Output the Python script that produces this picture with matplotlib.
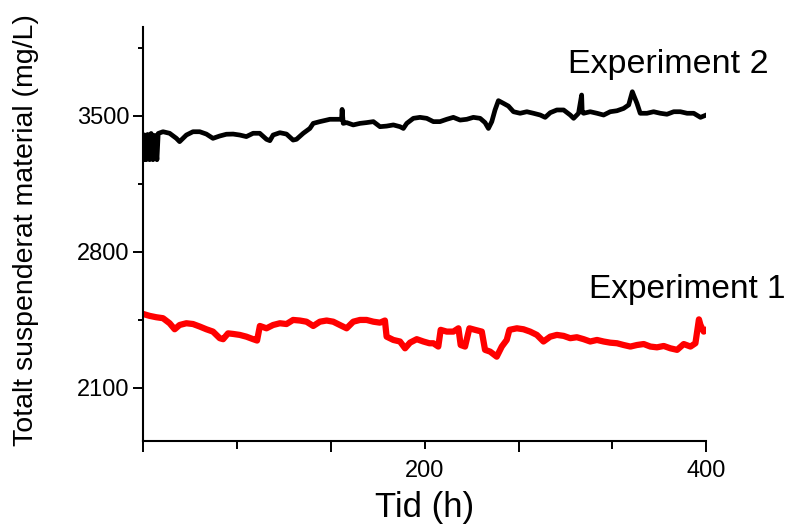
import matplotlib
matplotlib.use('Agg')
import matplotlib.pyplot as plt

plt.rcParams['font.family'] = ['Liberation Sans', 'DejaVu Sans']

# Experiment 2 (black), time in h, TSS in mg/L
exp2_t = [0, 0.4, 1.2, 2.3, 3.3, 4.7, 5.8, 7.1, 8.3, 9.9, 10.8, 14.2, 18.9, 23.7, 26.0,
          30.8, 35.5, 40.3, 45.0, 49.7, 54.5, 59.2, 64.0, 68.7, 73.4, 78.2, 82.9, 87.7,
          90.1, 92.4, 97.2, 101.9, 106.6, 109.0, 113.8, 118.5, 120.9, 125.6, 130.4,
          132.7, 141.0, 141.4, 142.2, 144.6, 149.3, 154.1, 158.8, 163.6, 168.3, 173.0,
          177.8, 182.5, 184.9, 187.3, 192.0, 196.7, 201.5, 206.2, 210.9, 215.7, 220.4,
          225.2, 229.9, 234.6, 239.4, 242.9, 245.3, 247.7, 250.0, 252.4, 256.0, 259.5,
          263.1, 267.8, 272.6, 277.3, 282.1, 285.6, 289.2, 293.9, 298.7, 303.4, 305.8,
          309.3, 311.5, 311.9, 312.9, 317.6, 322.4, 327.1, 331.8, 336.6, 341.3, 344.9,
          347.5, 348.4, 350.8, 353.1, 357.9, 362.6, 367.4, 372.1, 376.9, 381.6, 386.4,
          391.1, 395.9, 400.0]
exp2_v = [3402, 3275, 3400, 3275, 3405, 3275, 3410, 3275, 3400, 3275, 3410, 3419, 3411,
          3385, 3368, 3402, 3419, 3419, 3407, 3385, 3397, 3406, 3407, 3402, 3394, 3411,
          3411, 3380, 3373, 3402, 3414, 3407, 3376, 3380, 3411, 3436, 3462, 3471, 3479,
          3483, 3483, 3534, 3462, 3466, 3454, 3462, 3466, 3471, 3445, 3448, 3454, 3445,
          3436, 3462, 3488, 3493, 3488, 3471, 3471, 3483, 3493, 3479, 3483, 3493, 3488,
          3466, 3436, 3471, 3531, 3579, 3565, 3551, 3522, 3514, 3522, 3514, 3505, 3493,
          3517, 3531, 3531, 3505, 3488, 3514, 3608, 3520, 3514, 3522, 3514, 3505, 3522,
          3527, 3539, 3557, 3625, 3608, 3565, 3514, 3514, 3522, 3514, 3509, 3522, 3522,
          3514, 3514, 3493, 3505]

# Experiment 1 (red)
exp1_t = [0, 4.7, 9.4, 14.2, 18.9, 22.5, 26.0, 30.8, 35.5, 40.3, 45.0, 49.7, 54.5, 56.9,
          60.4, 64.0, 68.7, 73.4, 78.2, 81.0, 83.0, 87.7, 92.4, 97.2, 101.9, 106.6,
          111.4, 116.1, 120.9, 125.6, 130.4, 135.1, 139.8, 144.6, 149.3, 154.1, 158.8,
          163.6, 168.3, 171.8, 173.0, 177.8, 182.5, 186.1, 189.6, 194.4, 199.1, 203.4,
          206.2, 209.7, 211.4, 215.7, 220.4, 224.0, 225.6, 228.7, 231.8, 235.8, 240.6,
          242.9, 246.5, 251.2, 254.8, 258.3, 260.2, 265.5, 270.2, 274.9, 279.7, 284.4,
          289.2, 293.9, 298.7, 303.4, 308.1, 312.9, 317.6, 322.4, 327.1, 331.8, 336.6,
          341.3, 346.1, 350.8, 355.6, 360.3, 365.0, 369.8, 374.5, 379.3, 384.0, 388.8,
          392.3, 394.8, 395.9, 398.2, 400.0]
exp1_v = [2481, 2471, 2464, 2459, 2433, 2402, 2424, 2433, 2429, 2416, 2402, 2390, 2356,
          2351, 2381, 2378, 2373, 2364, 2351, 2344, 2419, 2407, 2424, 2433, 2429, 2450,
          2447, 2441, 2419, 2441, 2447, 2441, 2424, 2407, 2441, 2450, 2450, 2441, 2436,
          2447, 2364, 2347, 2339, 2304, 2333, 2351, 2339, 2330, 2330, 2313, 2399, 2390,
          2390, 2407, 2321, 2313, 2407, 2399, 2390, 2296, 2287, 2261, 2313, 2347, 2399,
          2407, 2402, 2390, 2373, 2339, 2364, 2373, 2368, 2356, 2361, 2351, 2339, 2347,
          2339, 2333, 2330, 2321, 2313, 2321, 2326, 2313, 2309, 2316, 2304, 2296, 2326,
          2313, 2330, 2453, 2424, 2390, 2399]

fig = plt.figure(figsize=(7.9, 5.3), dpi=100)
ax = fig.add_axes([0.181, 0.168, 0.713, 0.781])

ax.plot(exp2_t, exp2_v, color='black', lw=3.4, solid_joinstyle='round')
ax.plot(exp1_t, exp1_v, color='#ff0000', lw=4.5, solid_joinstyle='round')

ax.set_xlim(0, 400)
ax.set_ylim(1827, 3958)

# x ticks every 200/3 h, only 200 and 400 labelled
xt = [i * 200 / 3 for i in range(7)]
ax.set_xticks(xt)
ax.set_xticklabels(['', '', '', '200', '', '', '400'])
ax.set_yticks([2100, 2800, 3500])
ax.set_yticks([2450, 3150, 3850], minor=True)

ax.tick_params(axis='both', direction='out', width=1.4, labelsize=17, colors='black')
ax.tick_params(axis='y', which='major', length=7, pad=3)
ax.tick_params(axis='y', which='minor', length=3.5, width=1.4)
ax.tick_params(axis='x', which='major', length=6, pad=8)
for i, tk in enumerate(ax.xaxis.get_major_ticks()):
    if i % 2 == 0:
        tk.tick1line.set_markersize(8)

for side in ['top', 'right']:
    ax.spines[side].set_visible(False)
for side in ['left', 'bottom']:
    ax.spines[side].set_linewidth(1.5)

ax.set_xlabel('Tid (h)', fontsize=25, labelpad=6)
ax.set_ylabel('Totalt suspenderat material (mg/L)', fontsize=20.5)
ax.yaxis.set_label_coords(-0.185, 0.51)

ax.text(302, 3721, 'Experiment 2', fontsize=24.5, va='baseline', ha='left')
ax.text(317, 2563, 'Experiment 1', fontsize=24, va='baseline', ha='left')

fig.savefig('out.png', dpi=100)
